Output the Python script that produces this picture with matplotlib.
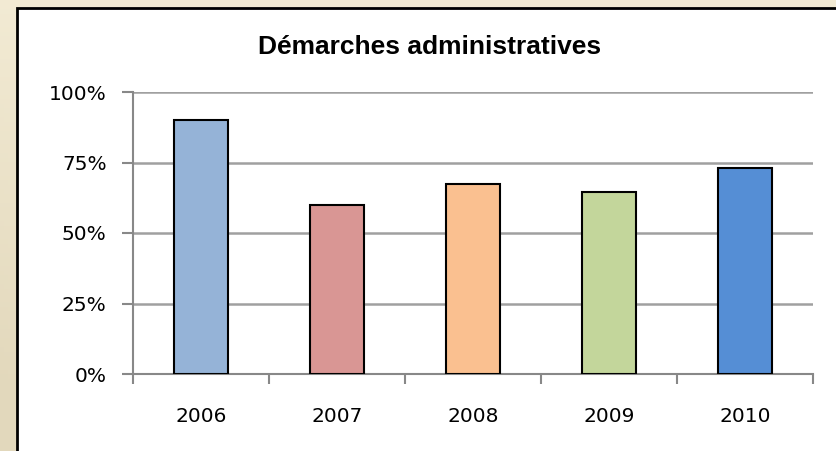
import numpy as np
import matplotlib.pyplot as plt
from matplotlib.patches import Rectangle

years = ["2006", "2007", "2008", "2009", "2010"]
values = [0.90, 0.60, 0.675, 0.645, 0.73]
colors = ["#95B3D7", "#D99694", "#FAC090", "#C3D69B", "#558ED5"]
yticks = [0, 0.25, 0.5, 0.75, 1.0]
ylabels = ["0%", "25%", "50%", "75%", "100%"]

fig = plt.figure(figsize=(8.36, 4.51), dpi=100)

# beige background with a light gradient
bg = fig.add_axes([0, 0, 1, 1], zorder=-2)
gx = np.linspace(0, 1, 200)
gy = np.linspace(0, 1, 100)
X, Y = np.meshgrid(gx, gy)
g = np.clip(1 - (1 - X) * (1 - Y) * 1.2, 0, 1)
c0 = np.array([0.89, 0.85, 0.74])
c1 = np.array([0.95, 0.92, 0.83])
img = c0[None, None, :] * (1 - g[..., None]) + c1[None, None, :] * g[..., None]
bg.imshow(img, origin="lower", extent=[0, 1, 0, 1], aspect="auto")
bg.set_axis_off()

# white chart panel
panel = Rectangle((17 / 836, -0.05), 1.0, 1 - 8 / 451 + 0.05, transform=fig.transFigure,
                  facecolor="white", edgecolor="black", linewidth=2, zorder=-1)
fig.patches.append(panel)

ax = fig.add_axes([133 / 836, 1 - 374 / 451, (813 - 133) / 836, (374 - 92) / 451])
ax.set_facecolor("none")
x = np.arange(len(years))
ax.bar(x, values, width=0.4, color=colors, edgecolor="black", linewidth=1.5, zorder=3)

ax.set_xlim(-0.5, len(years) - 0.5)
ax.set_ylim(0, 1)
ax.set_yticks(yticks)
ax.set_yticklabels(ylabels, fontsize=14.5, fontfamily="DejaVu Sans")
ax.set_xticks(x)
ax.set_xticklabels(years, fontsize=14.5, fontfamily="DejaVu Sans")
ax.set_xticks(np.arange(-0.5, len(years)), minor=True)
ax.tick_params(axis="x", which="major", length=0, pad=24)
ax.tick_params(axis="x", which="minor", length=7, width=1.5, color="#888888", direction="out")
ax.tick_params(axis="y", length=8, width=1.5, color="#888888", pad=11)

ax.grid(axis="y", color="#A0A0A0", linewidth=1.8, zorder=0)
for s in ["top", "right"]:
    ax.spines[s].set_visible(False)
for s in ["left", "bottom"]:
    ax.spines[s].set_color("#888888")
    ax.spines[s].set_linewidth(1.5)

fig.text(430 / 836, 1 - 54 / 451, "Démarches administratives", ha="center", va="baseline",
         fontsize=19, fontweight="bold", fontfamily="Liberation Sans")

fig.savefig("out.png", dpi=100)
